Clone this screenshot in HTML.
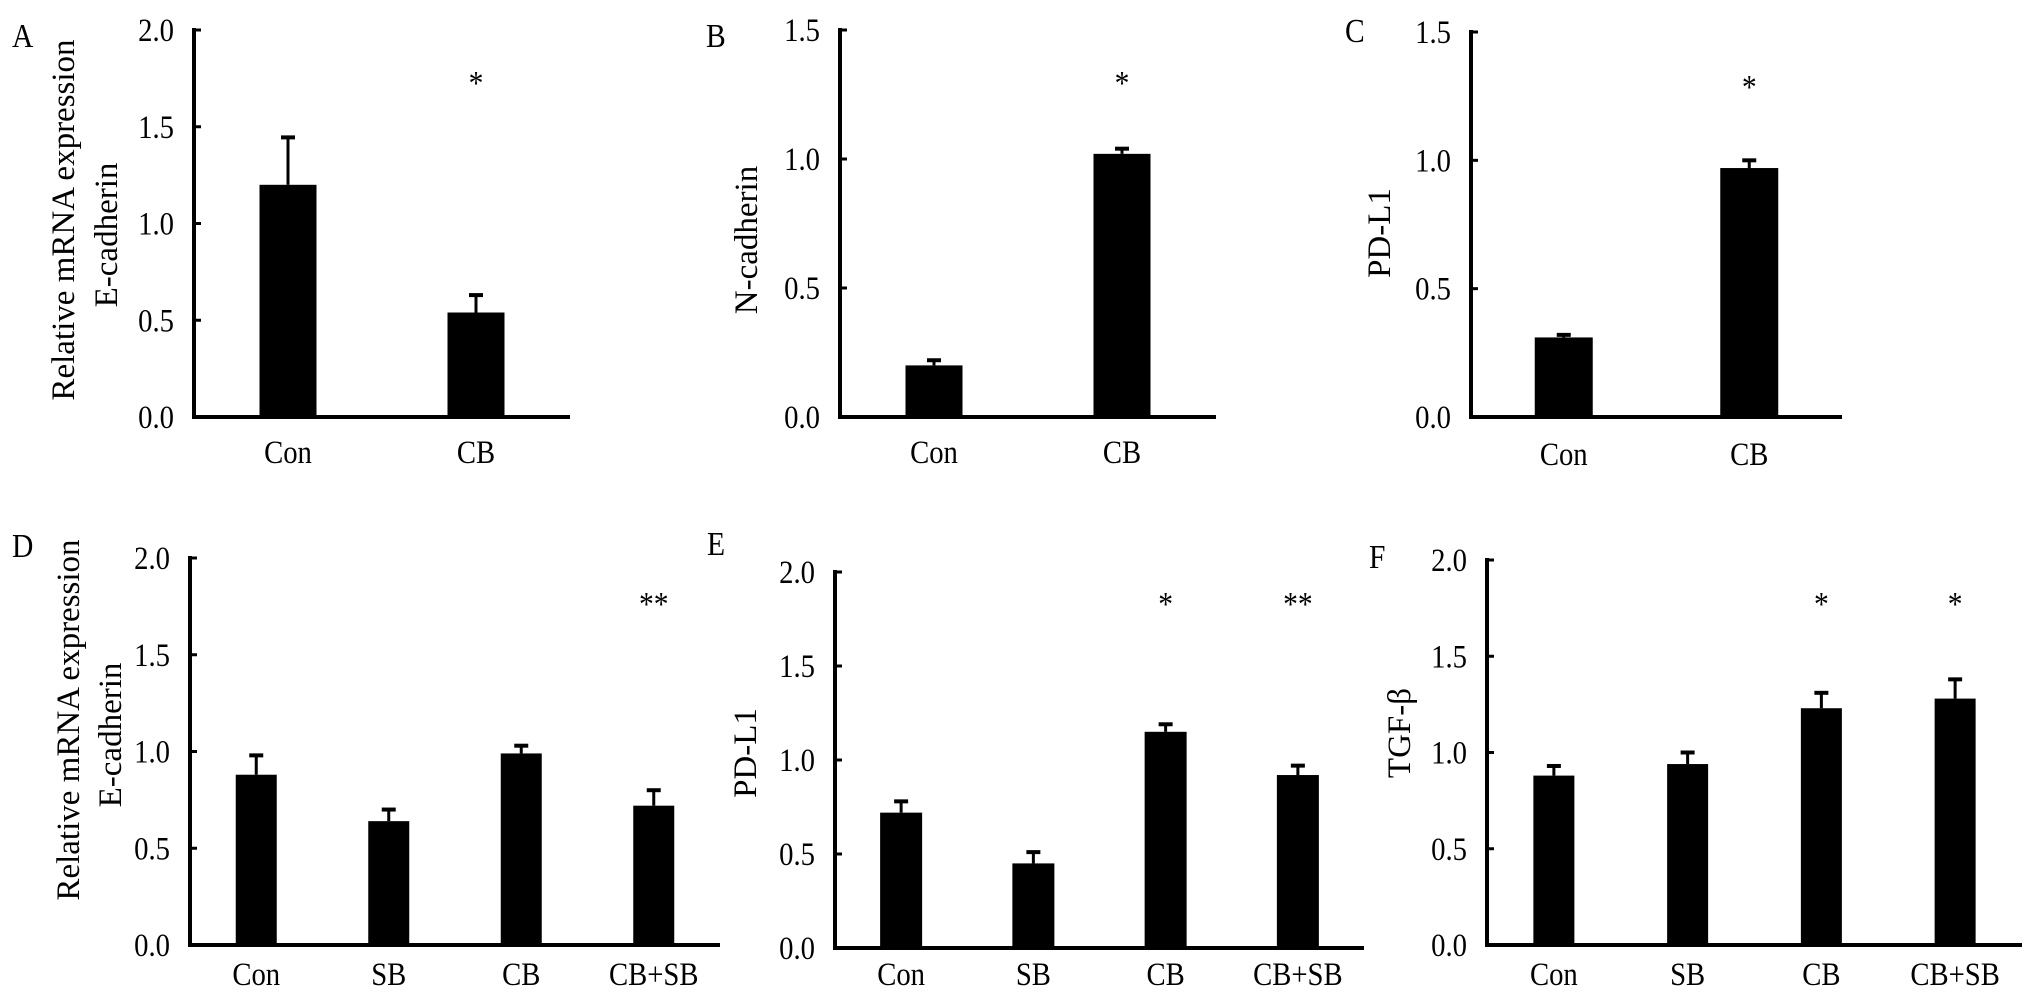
<!DOCTYPE html>
<html><head><meta charset="utf-8"><style>
html,body{margin:0;padding:0;background:#fff;}
svg{display:block;}
text{font-family:"Liberation Serif","Times New Roman",serif;fill:#000;}
</style></head><body>
<svg id="fig" width="2031" height="999" viewBox="0 0 2031 999" xmlns="http://www.w3.org/2000/svg"></svg>
<script>
// Data arrays
const catsTop = ["Con", "CB"];
const catsBottom = ["Con", "SB", "CB", "CB+SB"];
const valsA = [1.20, 0.54];
const errA = [1.445, 0.63];
const sigA = ["", "*"];
const valsB = [0.20, 1.02];
const errB = [0.22, 1.04];
const sigB = ["", "*"];
const valsC = [0.31, 0.97];
const errC = [0.32, 1.00];
const sigC = ["", "*"];
const valsD = [0.88, 0.64, 0.99, 0.72];
const errD = [0.98, 0.70, 1.03, 0.80];
const sigD = ["", "", "", "**"];
const valsE = [0.72, 0.45, 1.15, 0.92];
const errE = [0.78, 0.51, 1.19, 0.97];
const sigE = ["", "", "*", "**"];
const valsF = [0.88, 0.94, 1.23, 1.28];
const errF = [0.93, 1.00, 1.31, 1.38];
const sigF = ["", "", "*", "*"];
const ticks2 = ["0.0", "0.5", "1.0", "1.5", "2.0"];
const ticks15 = ["0.0", "0.5", "1.0", "1.5"];

const NS = "http://www.w3.org/2000/svg";
const svg = document.getElementById("fig");
function mk(tag, attrs, parent) {
  const e = document.createElementNS(NS, tag);
  for (const k in attrs) e.setAttribute(k, attrs[k]);
  (parent || svg).appendChild(e);
  return e;
}
function txt(str, x, y, size, anchor, parent, rot) {
  const t = mk("text", {"font-size": size, "text-anchor": anchor || "middle"}, parent);
  if (rot) t.setAttribute("transform", "translate(" + x + "," + y + ") rotate(-90)");
  else t.setAttribute("transform", "translate(" + x + "," + y + ") scale(0.87,1)");
  t.textContent = str;
  return t;
}

const panels = [
  {id:"a", letter:"A", lx:12, ly:47, ax:194, end:570, top:30, bot:417, max:2.0, ticks:ticks2, cats:catsTop, vals:valsA, err:errA, sig:sigA, bw:57, starY:82, labY:463, ylab:["Relative mRNA expression","E-cadherin"], ylx:[63,106], yly:[220,235]},
  {id:"b", letter:"B", lx:706, ly:47, ax:840, end:1216, top:30, bot:417, max:1.5, ticks:ticks15, cats:catsTop, vals:valsB, err:errB, sig:sigB, bw:57, starY:82, labY:463, ylab:["N-cadherin"], ylx:[746], yly:[240]},
  {id:"c", letter:"C", lx:1345, ly:42, ax:1471, end:1842, top:32, bot:417, max:1.5, ticks:ticks15, cats:catsTop, vals:valsC, err:errC, sig:sigC, bw:58, starY:86, labY:465, ylab:["PD-L1"], ylx:[1379], yly:[233]},
  {id:"d", letter:"D", lx:12, ly:557, ax:190, end:720, top:558, bot:945, max:2.0, ticks:ticks2, cats:catsBottom, vals:valsD, err:errD, sig:sigD, bw:41, starY:603, labY:985, ylab:["Relative mRNA expression","E-cadherin"], ylx:[68,110], yly:[720,735]},
  {id:"e", letter:"E", lx:707, ly:555, ax:835, end:1364, top:572, bot:948, max:2.0, ticks:ticks2, cats:catsBottom, vals:valsE, err:errE, sig:sigE, bw:42, starY:603, labY:985, ylab:["PD-L1"], ylx:[745], yly:[753]},
  {id:"f", letter:"F", lx:1369, ly:568, ax:1487, end:2022, top:560, bot:945, max:2.0, ticks:ticks2, cats:catsBottom, vals:valsF, err:errF, sig:sigF, bw:41, starY:603, labY:985, ylab:["TGF-β"], ylx:[1399], yly:[733]}
];

panels.forEach(p => {
  const g = mk("g", {});
  
  
  const y = v => p.bot - (v / p.max) * (p.bot - p.top);
  const band = (p.end - p.ax) / p.cats.length;
  const xc = i => p.ax + band * (i + 0.5);

  const L = txt(p.letter, p.lx, p.ly, 34, "start", g);
  
  

  // y axis
  const ya = mk("line", {x1:p.ax, y1:p.top - 2, x2:p.ax, y2:p.bot + 1, stroke:"#000", "stroke-width":4}, g);
  
  
  p.ticks.forEach(t => {
    const v = parseFloat(t);
    const tk = mk("line", {x1:p.ax, y1:y(v), x2:p.ax + 7, y2:y(v), stroke:"#000", "stroke-width":3}, g);
    
    
    const tl = txt(t, p.ax - 20, y(v) + 11, 33, "end", g);
    
    
  });
  // y labels
  p.ylab.forEach((s, k) => {
    const yl = txt(s, p.ylx[k] + 11, p.yly[k], 33, "middle", g, true);
    
    
  });
  // bars
  p.vals.forEach((v, i) => {
    const cx = xc(i);
    const b = mk("rect", {x:cx - p.bw / 2, y:y(v), width:p.bw, height:p.bot - y(v), fill:"#000"}, g);
    
    
    const ev = p.err[i];
    const e1 = mk("line", {x1:cx, y1:y(v), x2:cx, y2:y(ev), stroke:"#000", "stroke-width":3}, g);
    
    
    const e2 = mk("line", {x1:cx - 7, y1:y(ev), x2:cx + 7, y2:y(ev), stroke:"#000", "stroke-width":4}, g);
    
    
    if (p.sig[i]) {
      const st = txt(p.sig[i], cx, p.starY + 12, 34, "middle", g);
      
      
    }
    const cl = txt(p.cats[i], cx, p.labY, 33, "middle", g);
    
    
  });
  // x axis
  const xa = mk("line", {x1:p.ax - 2, y1:p.bot, x2:p.end, y2:p.bot, stroke:"#000", "stroke-width":4}, g);
  
  
});
</script>
</body></html>
